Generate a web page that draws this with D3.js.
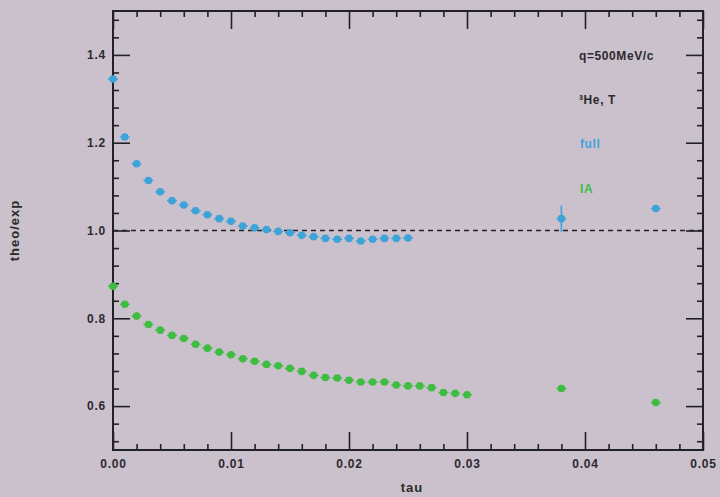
<!DOCTYPE html>
<html>
<head>
<meta charset="utf-8">
<script src="https://cdn.jsdelivr.net/npm/d3@7"></script>
<style>
  html, body { margin: 0; padding: 0; background: #cac1cc; }
  svg { display: block; }
  text { font-family: "Liberation Sans", "DejaVu Sans", sans-serif; fill: #2a2a2e; }
</style>
</head>
<body>
<svg id="chart" width="720" height="497"></svg>
<script>
// ---- data ----
const tauFull = [0.000,0.001,0.002,0.003,0.004,0.005,0.006,0.007,0.008,0.009,0.010,0.011,0.012,0.013,0.014,0.015,0.016,0.017,0.018,0.019,0.020,0.021,0.022,0.023,0.024,0.025,0.038,0.046];
const valFull = [1.345,1.213,1.152,1.114,1.088,1.068,1.058,1.045,1.036,1.027,1.021,1.010,1.006,1.002,0.998,0.995,0.989,0.986,0.982,0.980,0.982,0.976,0.980,0.982,0.982,0.983,1.027,1.050];
const errFull = [0,0,0,0,0,0,0,0,0,0,0,0,0,0,0,0,0,0,0,0,0,0,0,0,0,0,0.03,0.008];

const tauIA = [0.000,0.001,0.002,0.003,0.004,0.005,0.006,0.007,0.008,0.009,0.010,0.011,0.012,0.013,0.014,0.015,0.016,0.017,0.018,0.019,0.020,0.021,0.022,0.023,0.024,0.025,0.026,0.027,0.028,0.029,0.030,0.038,0.046];
const valIA = [0.873,0.832,0.805,0.786,0.773,0.761,0.754,0.741,0.732,0.723,0.717,0.708,0.702,0.695,0.692,0.686,0.679,0.670,0.665,0.664,0.659,0.655,0.655,0.655,0.648,0.646,0.646,0.642,0.631,0.629,0.626,0.640,0.608];

const xTicks = [0.00,0.01,0.02,0.03,0.04,0.05];
const yTicks = [0.6,0.8,1.0,1.2,1.4];
const xLabel = "tau";
const yLabel = "theo/exp";
const notes = ["q=500MeV/c", "³He, T"];
const seriesNames = ["full", "IA"];
const seriesColors = ["#3ea3d8", "#3fbd42"];

// ---- layout ----
const svg = d3.select("#chart");
const m = {left: 113, right: 17, top: 11, bottom: 47};
const W = 720, H = 497;
const x = d3.scaleLinear().domain([0, 0.05]).range([m.left, W - m.right]);
const y = d3.scaleLinear().domain([0.5, 1.5]).range([H - m.bottom, m.top]);

const axisColor = "#222226";
const gAx = svg.append("g");

// minor tick positions
const xMinor = d3.range(0, 0.0501, 0.002).filter(v => !xTicks.some(t => Math.abs(t - v) < 1e-9));
const yMinor = d3.range(0.52, 1.5, 0.04).filter(v => !yTicks.some(t => Math.abs(t - v) < 1e-9));

// bottom axis
gAx.append("g").attr("transform", `translate(0,${y(0.5)})`)
  .call(d3.axisBottom(x).tickValues(xTicks).tickFormat(d3.format(".2f")).tickSize(-18).tickPadding(9))
  .call(g => g.select(".domain").remove());
gAx.append("g").attr("transform", `translate(0,${y(0.5)})`)
  .call(d3.axisBottom(x).tickValues(xMinor).tickFormat("").tickSize(-6))
  .call(g => g.select(".domain").remove());
// top axis
gAx.append("g").attr("transform", `translate(0,${y(1.5)})`)
  .call(d3.axisTop(x).tickValues(xTicks).tickFormat("").tickSize(-18))
  .call(g => g.select(".domain").remove());
gAx.append("g").attr("transform", `translate(0,${y(1.5)})`)
  .call(d3.axisTop(x).tickValues(xMinor).tickFormat("").tickSize(-6))
  .call(g => g.select(".domain").remove());
// left axis
gAx.append("g").attr("transform", `translate(${x(0)},0)`)
  .call(d3.axisLeft(y).tickValues(yTicks).tickFormat(d3.format(".1f")).tickSize(-17).tickPadding(7))
  .call(g => g.select(".domain").remove());
gAx.append("g").attr("transform", `translate(${x(0)},0)`)
  .call(d3.axisLeft(y).tickValues(yMinor).tickFormat("").tickSize(-6))
  .call(g => g.select(".domain").remove());
// right axis
gAx.append("g").attr("transform", `translate(${x(0.05)},0)`)
  .call(d3.axisRight(y).tickValues(yTicks).tickFormat("").tickSize(-17))
  .call(g => g.select(".domain").remove());
gAx.append("g").attr("transform", `translate(${x(0.05)},0)`)
  .call(d3.axisRight(y).tickValues(yMinor).tickFormat("").tickSize(-6))
  .call(g => g.select(".domain").remove());

gAx.selectAll(".tick line").attr("stroke", axisColor).attr("stroke-width", 1.6);
gAx.selectAll(".tick text").attr("font-size", 12).attr("font-weight", "bold")
  .attr("letter-spacing", 0.8).style("fill", "#2a2a2e");

// frame
svg.append("rect")
  .attr("x", x(0)).attr("y", y(1.5))
  .attr("width", x(0.05) - x(0)).attr("height", y(0.5) - y(1.5))
  .attr("fill", "none").attr("stroke", axisColor).attr("stroke-width", 2);

// dashed reference line at 1.0
svg.append("line")
  .attr("x1", x(0)).attr("x2", x(0.05)).attr("y1", y(1.0)).attr("y2", y(1.0))
  .attr("stroke", "#222226").attr("stroke-width", 1.6).attr("stroke-dasharray", "5,4");

// axis labels
svg.append("text").attr("x", 412).attr("y", 492)
  .attr("text-anchor", "middle").attr("font-size", 13).attr("font-weight", "bold")
  .attr("letter-spacing", 1).text(xLabel);
svg.append("text").attr("transform", `translate(19,${y(1.0)}) rotate(-90)`)
  .attr("text-anchor", "middle").attr("font-size", 13).attr("font-weight", "bold")
  .attr("letter-spacing", 1).text(yLabel);

// annotations
const noteStyle = s => s.attr("font-size", 12).attr("font-weight", "bold").attr("letter-spacing", 0.6);
svg.append("text").attr("x", 579).attr("y", y(1.4) + 5).call(noteStyle).text(notes[0]);
svg.append("text").attr("x", 579).attr("y", y(1.3) + 5).call(noteStyle).text(notes[1]);
svg.append("text").attr("x", 580).attr("y", y(1.2) + 5).call(noteStyle)
  .style("fill", seriesColors[0]).text(seriesNames[0]);
svg.append("text").attr("x", 580).attr("y", y(1.1) + 6).call(noteStyle)
  .style("fill", seriesColors[1]).text(seriesNames[1]);

// markers
function drawSeries(taus, vals, errs, color) {
  const g = svg.append("g");
  taus.forEach((t, i) => {
    const e = errs ? errs[i] : 0;
    if (e > 0) {
      g.append("line").attr("x1", x(t)).attr("x2", x(t))
        .attr("y1", y(vals[i] - e)).attr("y2", y(vals[i] + e))
        .attr("stroke", color).attr("stroke-width", 1.6);
    }
    g.append("line").attr("x1", x(t) - 5).attr("x2", x(t) + 5)
      .attr("y1", y(vals[i])).attr("y2", y(vals[i]))
      .attr("stroke", color).attr("stroke-width", 1.4);
    g.append("circle").attr("cx", x(t)).attr("cy", y(vals[i])).attr("r", 3.8)
      .attr("fill", color);
  });
}
drawSeries(tauFull, valFull, errFull, seriesColors[0]);
drawSeries(tauIA, valIA, null, seriesColors[1]);
</script>
</body>
</html>
